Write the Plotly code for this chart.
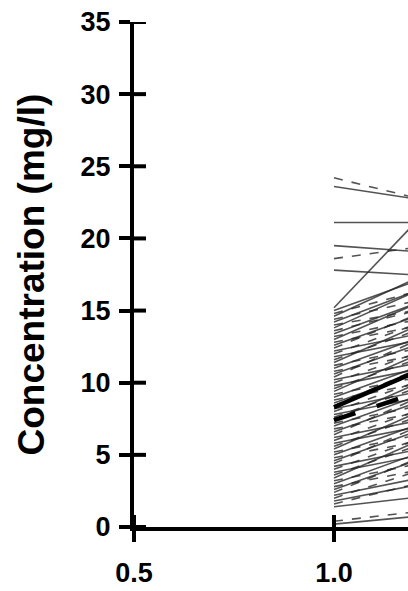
import plotly.graph_objects as go

# ---- data ----
time_points = [1.0, 1.5]
subject_start = [24.2, 23.6, 21.1, 19.5, 18.6, 17.8, 15.2,
                 15.0, 14.8, 14.6, 14.4, 14.2, 14.0, 13.8, 13.6, 13.4, 13.2,
                 13.0, 12.8, 12.6, 12.4, 12.2, 12.0, 11.8, 11.6, 11.4, 11.2,
                 11.0, 10.8, 10.6, 10.4, 10.2, 10.0, 9.8, 9.6, 9.4, 9.2,
                 9.0, 8.8, 8.6, 8.4, 8.2, 8.0, 7.8, 7.6, 7.4, 7.2,
                 7.0, 6.8, 6.6, 6.4, 6.2, 6.0, 5.8, 5.6, 5.4, 5.2,
                 5.0, 4.8, 4.6, 4.4, 4.2, 4.0, 3.8, 3.6, 3.4, 3.2,
                 3.0, 2.8, 2.6, 2.4, 2.2, 2.0, 1.8, 1.6, 1.4, 0.4, 0.2]
subject_end = [20.8, 21.5, 21.1, 18.5, 20.5, 17.0, 29.7,
               20.0, 18.5, 21.0, 17.5, 19.5, 16.5, 20.0, 17.0, 18.5, 16.0,
               19.0, 15.5, 17.5, 18.0, 15.0, 17.0, 14.5, 16.5, 17.5, 14.0,
               16.0, 13.5, 15.5, 16.5, 13.0, 15.0, 12.5, 14.5, 15.5, 12.0,
               14.0, 11.5, 13.5, 14.5, 11.0, 13.0, 10.5, 12.5, 13.5, 10.0,
               12.0, 9.5, 11.5, 12.5, 9.0, 11.0, 8.5, 10.5, 11.5, 8.0,
               10.0, 7.5, 9.5, 10.5, 7.0, 9.0, 6.5, 8.5, 9.5, 6.0,
               8.0, 5.5, 7.5, 8.0, 5.0, 6.5, 4.5, 5.0, 3.0, 2.0, 1.5]
mean_solid = [8.3, 14.3]
mean_dashed = [7.4, 12.0]

y_ticks = [0, 5, 10, 15, 20, 25, 30, 35]
x_ticks = [0.5, 1.0, 1.5]
x_range = [0.5, 1.185]
y_range = [0, 35]

W, H = 408, 591
M = dict(l=134, r=0, t=22, b=64)
TICK_LEN = 12
TICK_W = 4
x_per_px = (x_range[1] - x_range[0]) / (W - M["l"] - M["r"])
y_per_px = (y_range[1] - y_range[0]) / (H - M["t"] - M["b"])

fig = go.Figure()
solid_subjects = {2, 6}
for i, (a, b) in enumerate(zip(subject_start, subject_end)):
    dash = "solid" if (i in solid_subjects or i % 2 == 1) else "dash"
    fig.add_trace(go.Scatter(
        x=time_points, y=[a, b], mode="lines",
        line=dict(color="rgba(40,40,40,0.8)", width=1.6, dash=dash),
        showlegend=False, hoverinfo="skip"))

fig.add_trace(go.Scatter(x=time_points, y=mean_dashed, mode="lines",
                         line=dict(color="black", width=4.5, dash="longdash"),
                         showlegend=False))
fig.add_trace(go.Scatter(x=time_points, y=mean_solid, mode="lines",
                         line=dict(color="black", width=4.5),
                         showlegend=False))

# inside halves of the crossing ticks, drawn as one trace (None-separated)
tick_x, tick_y = [], []
for v in y_ticks:
    tick_x += [x_range[0], x_range[0] + TICK_LEN * x_per_px, None]
    tick_y += [v, v, None]
for v in x_ticks:
    if x_range[0] <= v <= x_range[1]:
        tick_x += [v, v, None]
        tick_y += [y_range[0], y_range[0] + TICK_LEN * y_per_px, None]
fig.add_trace(go.Scatter(x=tick_x, y=tick_y, mode="lines", connectgaps=False,
                         line=dict(color="black", width=TICK_W),
                         showlegend=False, hoverinfo="skip"))

tickfont = dict(family="Liberation Sans", size=27, color="black", weight="bold")
fig.update_layout(
    width=W, height=H,
    margin=M,
    paper_bgcolor="white", plot_bgcolor="white",
    xaxis=dict(range=x_range, tickvals=x_ticks, tickformat=".1f",
               showgrid=False, zeroline=False, showline=True,
               linecolor="black", linewidth=4,
               ticks="outside", ticklen=TICK_LEN - 1, tickwidth=TICK_W, tickcolor="black",
               tickfont=tickfont, ticklabelstandoff=8),
    yaxis=dict(range=y_range, tickvals=y_ticks,
               showgrid=False, zeroline=False, showline=True,
               linecolor="black", linewidth=4,
               ticks="outside", ticklen=TICK_LEN - 1, tickwidth=TICK_W, tickcolor="black",
               tickfont=tickfont, ticklabelstandoff=3),
    annotations=[dict(text="Concentration (mg/l)", textangle=-90,
                      xref="paper", yref="paper", x=0, y=0.5,
                      xanchor="center", yanchor="middle", xshift=-103,
                      showarrow=False,
                      font=dict(family="Liberation Sans", size=37,
                                color="black", weight="bold"))],
)

fig.write_html("out.html", config={"displayModeBar": False},
               post_script="document.body.style.margin='0px';")
